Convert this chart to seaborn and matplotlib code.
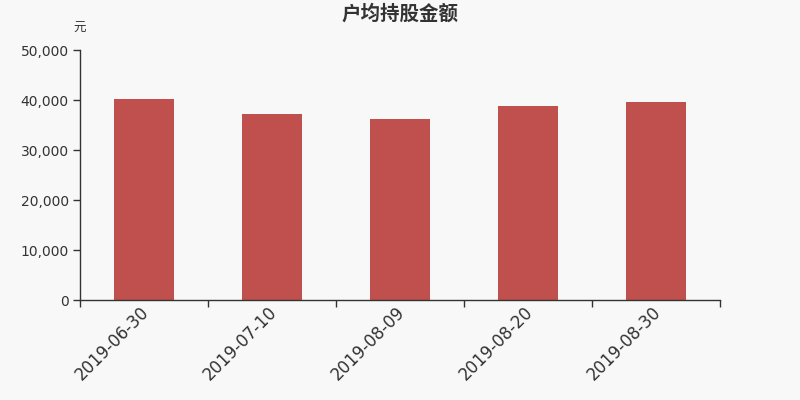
import numpy as np
import pandas as pd
import matplotlib
matplotlib.use('Agg')
import matplotlib.pyplot as plt
import matplotlib.transforms as mtransforms
import seaborn as sns
from matplotlib.ticker import FuncFormatter, FixedLocator

# data
dates = ['2019-06-30', '2019-07-10', '2019-08-09', '2019-08-20', '2019-08-30']
amounts = [40200, 37300, 36200, 38850, 39600]

sns.set_style('white')
plt.rcParams['font.family'] = ['DejaVu Sans', 'Noto Sans CJK SC']

bg = '#f8f8f8'
fig = plt.figure(figsize=(8, 4), dpi=100, facecolor=bg)
ax = fig.add_axes([0.1, 0.25, 0.8, 0.625], facecolor=bg)

df = pd.DataFrame({'date': dates, 'amount': amounts})
sns.barplot(data=df, x='date', y='amount', color='#c0504d', saturation=1,
            width=0.47, linewidth=0, ax=ax)

ax.set_xlim(-0.5, len(dates) - 0.5)
ax.set_ylim(0, 50000)
ax.set_yticks(np.arange(0, 50001, 10000))
ax.yaxis.set_major_formatter(FuncFormatter(lambda v, p: f'{int(v):,}'))

# ticks at category boundaries, labels at centres
ax.xaxis.set_minor_locator(FixedLocator(np.arange(-0.5, len(dates), 1)))
ax.tick_params(which='both', bottom=True, left=True)
ax.tick_params(axis='x', which='major', length=0, pad=2, labelsize=12, colors='#333333')
ax.tick_params(axis='x', which='minor', length=5, width=1, color='#333333')
ax.tick_params(axis='y', length=5, width=1, labelsize=10, colors='#333333', pad=3)
offset = mtransforms.ScaledTranslation(-4 / 100, 0, fig.dpi_scale_trans)
for lbl in ax.get_xticklabels():
    lbl.set_rotation(45)
    lbl.set_ha('right')
    lbl.set_rotation_mode('anchor')
    lbl.set_transform(lbl.get_transform() + offset)

for s in ['top', 'right']:
    ax.spines[s].set_visible(False)
for s in ['left', 'bottom']:
    ax.spines[s].set_color('#333333')
    ax.spines[s].set_linewidth(1)

ax.set_xlabel('')
ax.set_ylabel('')
fig.text(0.5, 0.965, '户均持股金额', ha='center', va='center', fontsize=14,
         fontweight='bold', color='#333333', family=['Noto Sans CJK SC', 'DejaVu Sans'])
fig.text(0.1, 0.928, '元', ha='center', va='center', fontsize=9, color='#333333',
         family=['Noto Sans CJK SC', 'DejaVu Sans'])

fig.savefig('out.png', dpi=100, facecolor=bg)
